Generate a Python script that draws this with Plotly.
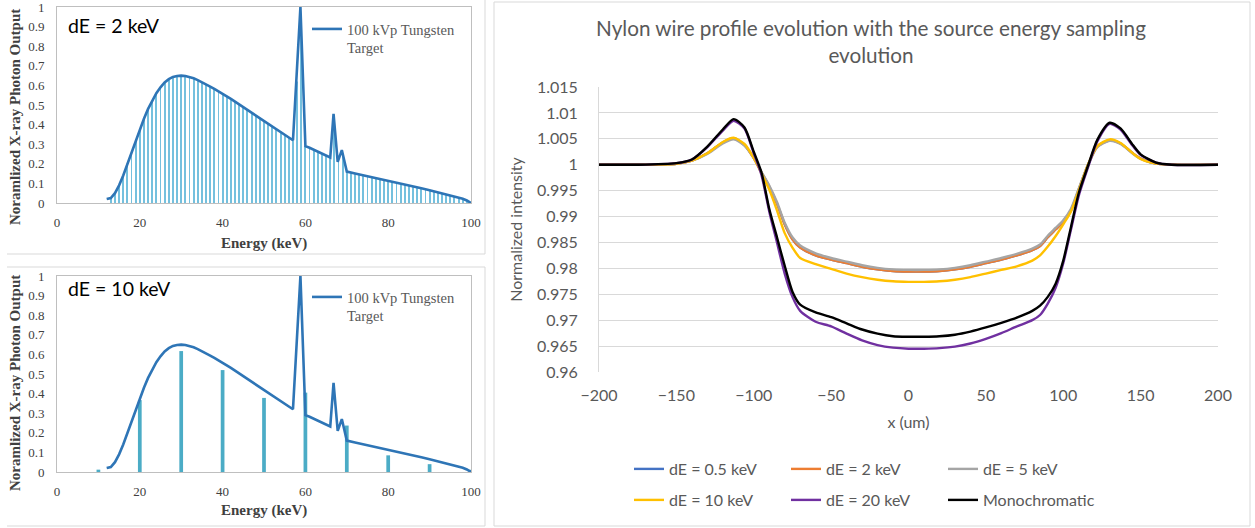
import plotly.graph_objects as go

W, H = 1255, 528


def px(x):
    return x / W


def py(y):
    return 1 - y / H


# ---------------- Left panels: 100 kVp tungsten spectrum ----------------
curve_E = [12, 13, 14, 15, 16, 17, 18, 19, 20, 21, 22, 23, 24, 25, 26, 27, 28, 29, 30,
           31, 32, 33, 34, 35, 36, 37, 38, 39, 40, 41, 42, 43, 44, 45, 46, 47, 48, 49, 50,
           51, 52, 53, 54, 55, 56, 57, 58.8, 60, 61, 62, 63, 64, 65, 66, 66.8, 67.8, 68.8,
           70, 72, 74, 76, 78, 80, 82, 84, 86, 88, 90, 92, 94, 96, 98, 99, 100]
curve_I = [0.02, 0.025, 0.05, 0.09, 0.14, 0.2, 0.26, 0.32, 0.375, 0.43, 0.48, 0.52, 0.56,
           0.59, 0.615, 0.632, 0.643, 0.648, 0.65, 0.648, 0.643, 0.636, 0.627, 0.617, 0.606,
           0.594, 0.582, 0.57, 0.557, 0.544, 0.531, 0.517, 0.503, 0.489, 0.475, 0.461, 0.447,
           0.433, 0.419, 0.405, 0.391, 0.377, 0.363, 0.349, 0.335, 0.32, 1.0, 0.29, 0.282,
           0.272, 0.262, 0.252, 0.242, 0.232, 0.455, 0.21, 0.27, 0.16, 0.151, 0.142, 0.133,
           0.124, 0.115, 0.105, 0.095, 0.085, 0.075, 0.065, 0.055, 0.045, 0.035, 0.022,
           0.013, 0.0]

fine_E = list(range(13, 100))
fine_I = [0.025, 0.05, 0.09, 0.14, 0.2, 0.26, 0.32, 0.375, 0.43, 0.48, 0.52, 0.56, 0.59,
          0.615, 0.632, 0.643, 0.648, 0.65, 0.648, 0.643, 0.636, 0.627, 0.617, 0.606, 0.594,
          0.582, 0.57, 0.557, 0.544, 0.531, 0.517, 0.503, 0.489, 0.475, 0.461, 0.447, 0.433,
          0.419, 0.405, 0.391, 0.377, 0.363, 0.349, 0.335, 0.32, 0.62, 0.95, 0.29, 0.282,
          0.272, 0.262, 0.252, 0.242, 0.232, 0.4, 0.22, 0.25, 0.16, 0.156, 0.151, 0.147,
          0.142, 0.138, 0.133, 0.129, 0.124, 0.12, 0.115, 0.11, 0.105, 0.1, 0.095, 0.09,
          0.085, 0.08, 0.075, 0.07, 0.065, 0.06, 0.055, 0.05, 0.045, 0.04, 0.035, 0.03,
          0.022, 0.013]

coarse_E = [10, 20, 30, 40, 50, 60, 70, 80, 90, 100]
coarse_I = [0.012, 0.367, 0.617, 0.52, 0.378, 0.405, 0.237, 0.085, 0.04, 0.012]

spec_xticks = [0, 20, 40, 60, 80, 100]
spec_yticks = [0, 0.1, 0.2, 0.3, 0.4, 0.5, 0.6, 0.7, 0.8, 0.9, 1]
spec_ylabels = ["0", "0.1", "0.2", "0.3", "0.4", "0.5", "0.6", "0.7", "0.8", "0.9", "1"]

# ---------------- Right panel: nylon wire profiles ----------------
prof_x = [-200, -175, -150, -140, -130, -120, -113, -106, -100, -95,
          -90, -85, -80, -75, -70, -60, -50, -40, -30, -20,
          -10, 0, 10, 20, 30, 40, 50, 60, 70, 80,
          85, 90, 95, 100, 105, 110, 116, 122, 130, 137,
          145, 150, 160, 170, 200]

dE_05 = [1.0, 1.0, 1.0002, 1.0008, 1.0022, 1.0043, 1.0051, 1.0038, 1.0013, 0.9985,
         0.9958, 0.9925, 0.9885, 0.9856, 0.984, 0.9825, 0.9817, 0.981, 0.9803, 0.9798,
         0.9795, 0.9794, 0.9794, 0.9795, 0.9798, 0.9803, 0.981, 0.9817, 0.9825, 0.9835,
         0.9843, 0.986, 0.9875, 0.989, 0.9912, 0.9952, 1.0, 1.0035, 1.0047, 1.0041,
         1.0022, 1.0012, 1.0002, 1.0, 1.0]
dE_2 = [1.0, 1.0, 1.0002, 1.0008, 1.0022, 1.0043, 1.0051, 1.0038, 1.0013, 0.9985,
        0.9958, 0.9925, 0.9885, 0.9856, 0.984, 0.9825, 0.9817, 0.981, 0.9803, 0.9798,
        0.9795, 0.9794, 0.9794, 0.9795, 0.9798, 0.9803, 0.981, 0.9817, 0.9825, 0.9835,
        0.9843, 0.986, 0.9875, 0.989, 0.9912, 0.9952, 1.0, 1.0035, 1.0047, 1.0041,
        1.0022, 1.0012, 1.0002, 1.0, 1.0]
dE_5 = [1.0, 1.0, 1.0002, 1.0008, 1.0021, 1.0041, 1.0049, 1.0037, 1.0013, 0.9986,
        0.996, 0.9928, 0.9888, 0.986, 0.9844, 0.9829, 0.982, 0.9813, 0.9806, 0.9801,
        0.9798, 0.9797, 0.9797, 0.9798, 0.9801, 0.9806, 0.9813, 0.982, 0.9828, 0.9838,
        0.9846, 0.9863, 0.9878, 0.9893, 0.9915, 0.9954, 1.0, 1.0034, 1.0046, 1.004,
        1.0021, 1.0011, 1.0002, 1.0, 1.0]
dE_10 = [1.0, 1.0, 1.0002, 1.0008, 1.0022, 1.0044, 1.0052, 1.004, 1.0013, 0.9983,
         0.9952, 0.9912, 0.9868, 0.984, 0.982, 0.9808, 0.9799, 0.979, 0.9783, 0.9778,
         0.9775, 0.9774, 0.9774, 0.9775, 0.9778, 0.9783, 0.979, 0.9797, 0.9804, 0.9815,
         0.9825, 0.9842, 0.9862, 0.9885, 0.991, 0.995, 1.0, 1.0036, 1.0049, 1.0042,
         1.0022, 1.0011, 1.0002, 1.0, 1.0]
dE_20 = [1.0, 1.0, 1.0003, 1.001, 1.0034, 1.0066, 1.0085, 1.007, 1.0022, 0.998,
         0.991, 0.985, 0.979, 0.9745, 0.9718, 0.9697, 0.9688, 0.9674, 0.9661, 0.9652,
         0.9647, 0.9645, 0.9645, 0.9646, 0.9649, 0.9655, 0.9664, 0.9675, 0.9688, 0.97,
         0.971, 0.9732, 0.9762, 0.981, 0.9875, 0.994, 0.9995, 1.0045, 1.0079, 1.0068,
         1.0036, 1.0019, 1.0004, 1.0, 1.0]
mono = [1.0, 1.0, 1.0003, 1.001, 1.0035, 1.0068, 1.0088, 1.0072, 1.0025, 0.9985,
        0.9915, 0.986, 0.9805, 0.9755, 0.973, 0.9715, 0.9706, 0.9694, 0.9682, 0.9674,
        0.9669, 0.9668, 0.9668, 0.9669, 0.9672, 0.9678, 0.9686, 0.9695, 0.9705, 0.9718,
        0.9728, 0.9745, 0.977, 0.9815, 0.988, 0.9945, 0.9998, 1.0048, 1.0081, 1.007,
        1.0038, 1.002, 1.0004, 1.0, 1.0]

series_names = ["dE = 0.5 keV", "dE = 2 keV", "dE = 5 keV",
                "dE = 10 keV", "dE = 20 keV", "Monochromatic"]
series_vals = [dE_05, dE_2, dE_5, dE_10, dE_20, mono]
series_colors = ["#4472C4", "#ED7D31", "#A5A5A5", "#FFC000", "#7030A0", "#000000"]

prof_xticks = [-200, -150, -100, -50, 0, 50, 100, 150, 200]
prof_yticks = [0.96, 0.965, 0.97, 0.975, 0.98, 0.985, 0.99, 0.995, 1.0, 1.005, 1.01, 1.015]
prof_ylabels = ["0.96", "0.965", "0.97", "0.975", "0.98", "0.985", "0.99", "0.995",
                "1", "1.005", "1.01", "1.015"]

SERIF = "Liberation Serif"
SANS = "Lato"
GREY_TXT = "#595959"
AX_GREY = "#bfbfbf"

fig = go.Figure()

# top-left panel (dE = 2 keV)
fig.add_trace(go.Bar(x=fine_E, y=fine_I, width=0.22, marker=dict(color="#74c0de", line_width=0),
                     xaxis="x", yaxis="y", showlegend=False, hoverinfo="skip"))
fig.add_trace(go.Scatter(x=curve_E, y=curve_I, mode="lines", line=dict(color="#2e75b6", width=2.6),
                         name="100 kVp Tungsten<br>Target", xaxis="x", yaxis="y", legend="legend2"))
# bottom-left panel (dE = 10 keV)
fig.add_trace(go.Bar(x=coarse_E, y=coarse_I, width=0.9, marker=dict(color="#4bacc6", line_width=0),
                     xaxis="x2", yaxis="y2", showlegend=False, hoverinfo="skip"))
fig.add_trace(go.Scatter(x=curve_E, y=curve_I, mode="lines", line=dict(color="#2e75b6", width=2.6),
                         name="100 kVp Tungsten<br>Target", xaxis="x2", yaxis="y2", legend="legend3"))

# right panel
for i, (nm, vals, col) in enumerate(zip(series_names, series_vals, series_colors)):
    fig.add_trace(go.Scatter(x=prof_x, y=vals, mode="lines", name=nm,
                             line=dict(color=col, width=2.4, shape="spline", smoothing=0.7),
                             xaxis="x3", yaxis="y3",
                             legend="legend" if i < 3 else "legend4"))

spec_x_common = dict(range=[0, 100], tickvals=spec_xticks, showgrid=False, zeroline=False,
                     showline=True, linecolor=AX_GREY, linewidth=1, mirror=True, ticks="",
                     tickfont=dict(family=SERIF, size=13, color="#404040"), ticklabelstandoff=7,
                     ticklabeloverflow="allow")
spec_y_common = dict(range=[0, 1], tickvals=spec_yticks, ticktext=spec_ylabels, showgrid=False,
                     zeroline=False, showline=True, linecolor=AX_GREY, linewidth=1, mirror=True,
                     ticks="", tickfont=dict(family=SERIF, size=13, color="#404040"),
                     ticklabelstandoff=9, ticklabeloverflow="allow")

legend_small = dict(orientation="v", xanchor="left", yanchor="top", valign="top",
                    bgcolor="rgba(0,0,0,0)", borderwidth=0, itemwidth=30,
                    font=dict(family=SERIF, size=14.5, color=GREY_TXT))
legend_row = dict(orientation="h", xanchor="left", yanchor="middle", bgcolor="rgba(0,0,0,0)",
                  borderwidth=0, itemwidth=30, entrywidth=112, entrywidthmode="pixels",
                  font=dict(family=SANS, size=16, color=GREY_TXT))

fig.update_layout(
    width=W, height=H,
    margin=dict(l=0, r=0, t=0, b=0, autoexpand=False),
    paper_bgcolor="white", plot_bgcolor="white",
    font=dict(family=SANS, color=GREY_TXT),
    title=dict(text="Nylon wire profile evolution with the source energy sampling<br>evolution",
               x=px(871), xanchor="center", y=py(36), yanchor="middle",
               font=dict(family=SANS, size=20.7, color=GREY_TXT)),
    xaxis=dict(domain=[px(57), px(471)], anchor="y", **spec_x_common),
    yaxis=dict(domain=[py(203), py(7)], anchor="x", **spec_y_common),
    xaxis2=dict(domain=[px(57), px(471)], anchor="y2", **spec_x_common),
    yaxis2=dict(domain=[py(472), py(276)], anchor="x2", **spec_y_common),
    xaxis3=dict(domain=[px(599), px(1218)], anchor="y3", range=[-200, 200], tickvals=prof_xticks,
                showgrid=False, zeroline=False, showline=False, ticks="",
                tickfont=dict(family=SANS, size=16, color=GREY_TXT), ticklabelstandoff=12,
                title=dict(text="x (um)", font=dict(family=SANS, size=16, color=GREY_TXT),
                           standoff=13)),
    yaxis3=dict(domain=[py(372), py(87)], anchor="x3", range=[0.96, 1.015], tickvals=prof_yticks,
                ticktext=prof_ylabels, showgrid=True, gridcolor="#d9d9d9", gridwidth=1,
                zeroline=False, showline=True, linecolor="#d9d9d9", ticks="",
                tickfont=dict(family=SANS, size=16, color=GREY_TXT), ticklabelstandoff=17,
                title=dict(text="Normalized intensity", font=dict(family=SANS, size=16, color=GREY_TXT),
                           standoff=10)),
    legend=dict(x=px(629), y=py(469), **legend_row),
    legend4=dict(x=px(629), y=py(500), **legend_row),
    legend2=dict(x=px(307), y=py(13), **legend_small),
    legend3=dict(x=px(307), y=py(281), **legend_small),
    showlegend=True,
)

ann = []
# panel labels
ann.append(dict(text="dE = 2 keV", x=px(66), y=py(25), xref="paper", yref="paper",
                xanchor="left", yanchor="middle", showarrow=False,
                font=dict(family=SANS, size=19.5, color="black")))
ann.append(dict(text="dE = 10 keV", x=px(66), y=py(288), xref="paper", yref="paper",
                xanchor="left", yanchor="middle", showarrow=False,
                font=dict(family=SANS, size=19.5, color="black")))
# left-panel axis titles
for ycen_t, ycen_x in [(117, 243), (383, 510)]:
    ann.append(dict(text="<b>Noramlized X-ray Photon Output</b>", x=px(15), y=py(ycen_t),
                    xref="paper", yref="paper", xanchor="center", yanchor="middle",
                    textangle=-90, showarrow=False,
                    font=dict(family=SERIF, size=15, color="#404040")))
    ann.append(dict(text="<b>Energy (keV)</b>", x=px(264), y=py(ycen_x), xref="paper",
                    yref="paper", xanchor="center", yanchor="middle", showarrow=False,
                    font=dict(family=SERIF, size=15, color="#404040")))
fig.update_layout(annotations=ann)

BORDER = "#d9d9d9"
segs = [
    (7, 254, 485, 254), (485, 0, 485, 254),
    (7, 267, 485, 267), (485, 267, 485, 526), (7, 526, 485, 526),
]
shapes = [dict(type="line", xref="paper", yref="paper", x0=px(a), y0=py(b), x1=px(c), y1=py(d),
               line=dict(color=BORDER, width=1), layer="below") for a, b, c, d in segs]
shapes.append(dict(type="rect", xref="paper", yref="paper", x0=px(494), y0=py(2), x1=px(1250),
                   y1=py(526), line=dict(color=BORDER, width=1), layer="below"))
fig.update_layout(shapes=shapes)

fig.write_html("out.html", config={"displayModeBar": False},
               post_script="document.body.style.margin='0';document.body.style.overflow='hidden';")
